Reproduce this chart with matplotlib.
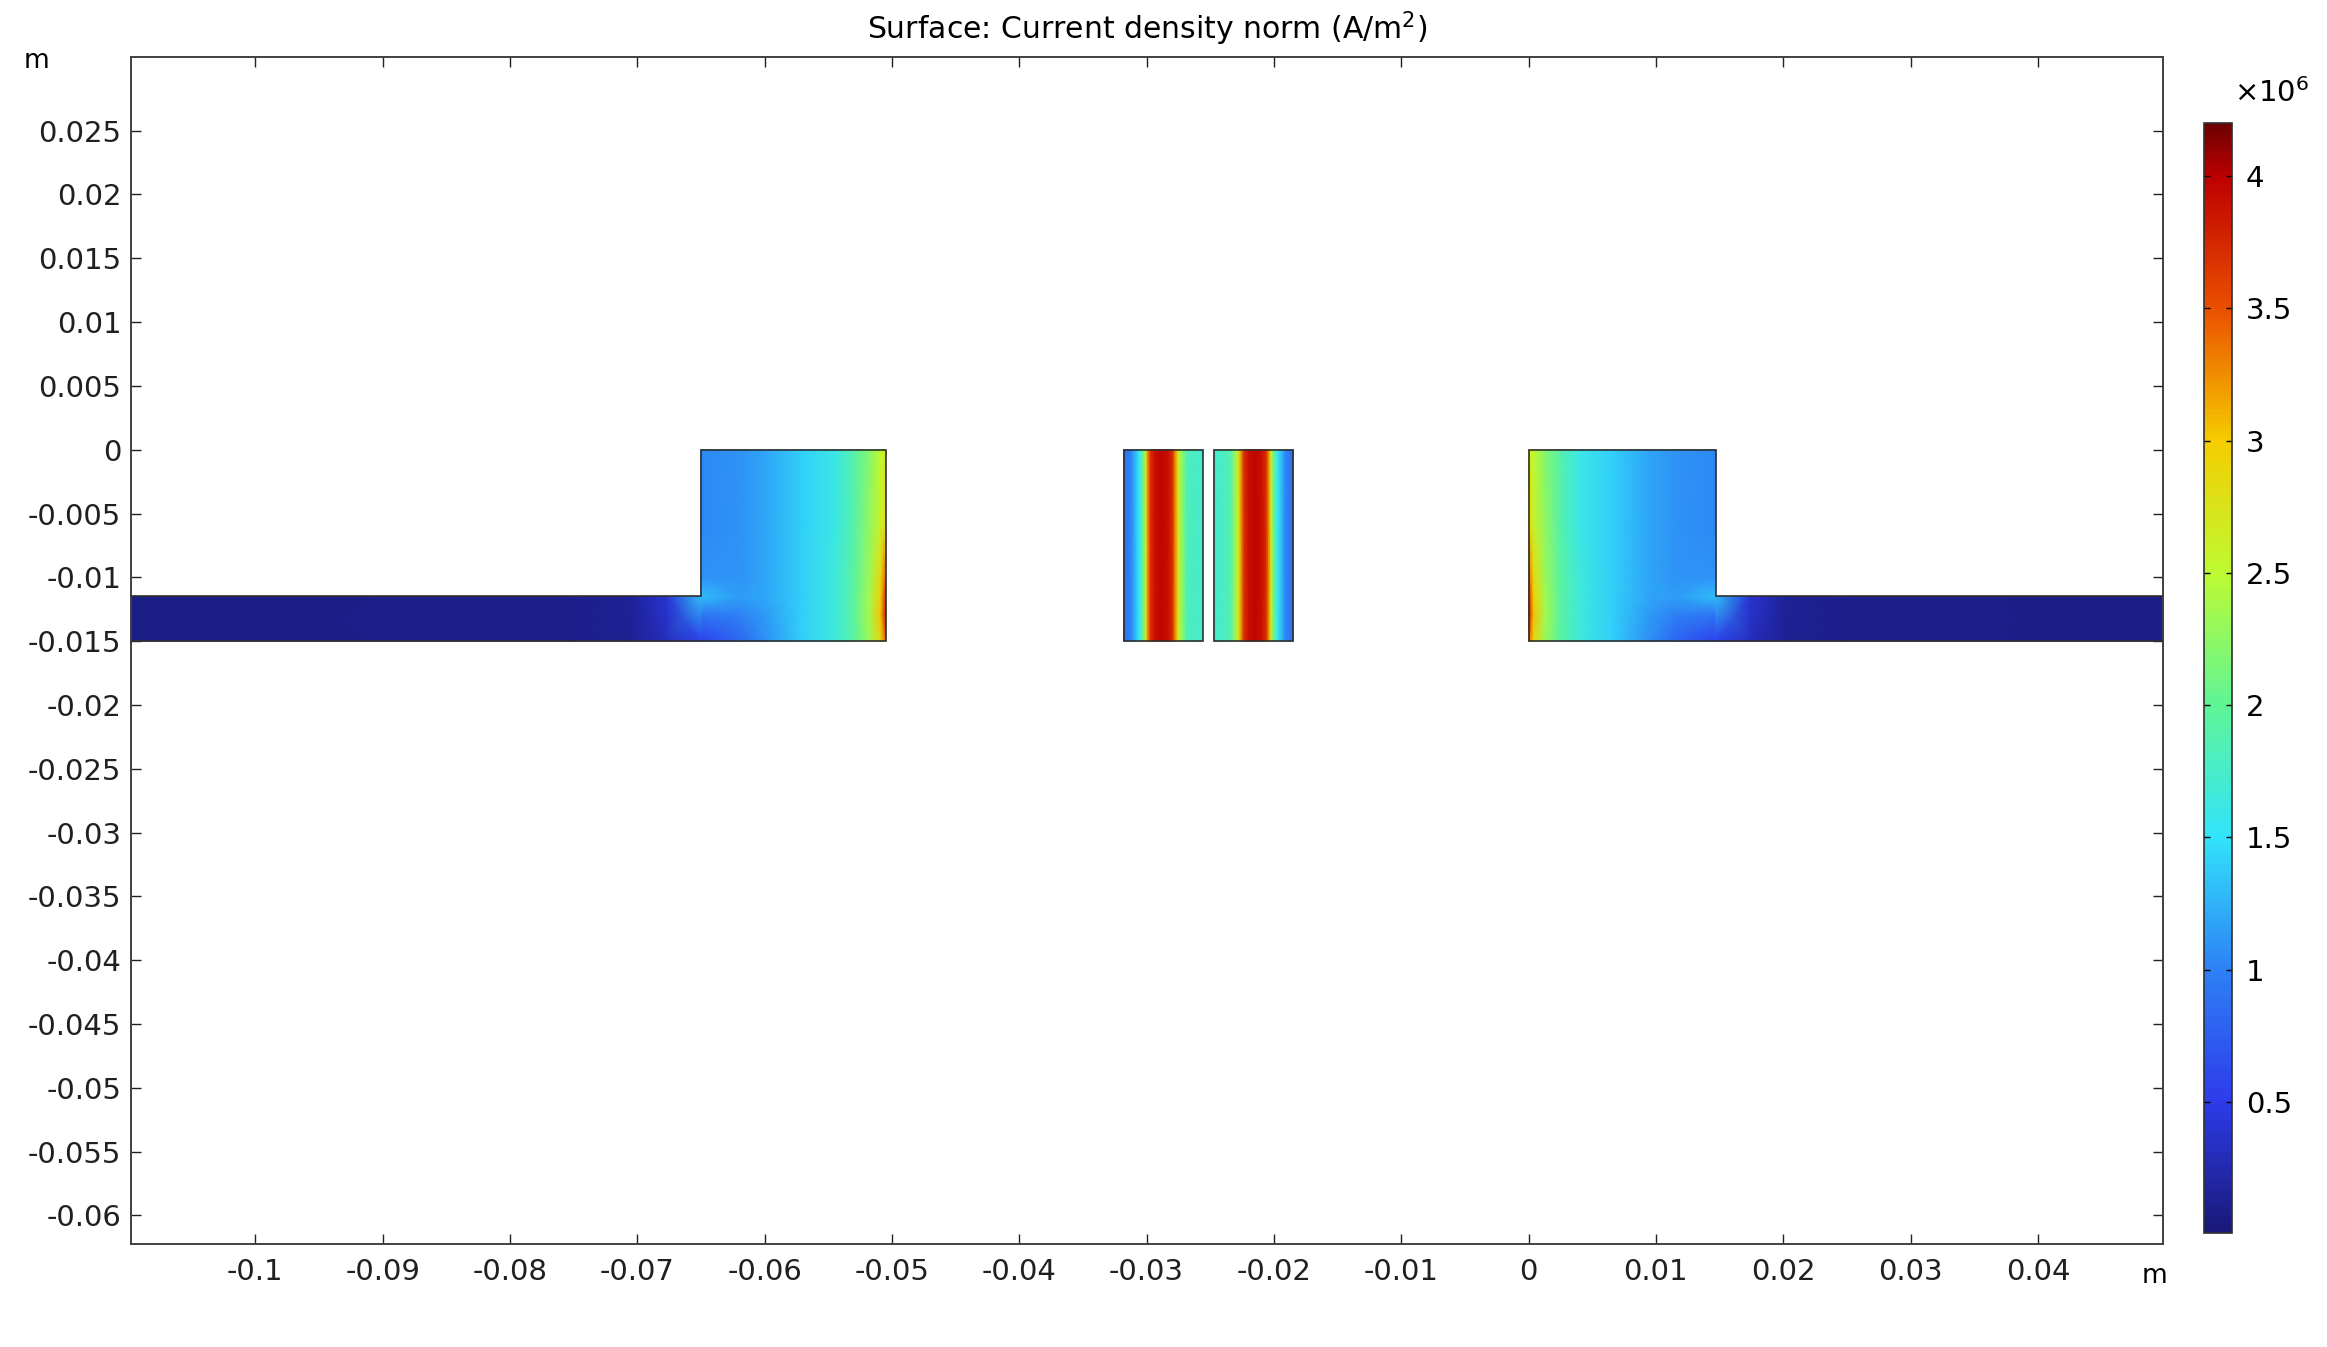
import matplotlib
matplotlib.use("Agg")
import matplotlib.pyplot as plt
import numpy as np
from matplotlib.colors import LinearSegmentedColormap, Normalize
from matplotlib.patches import Polygon

plt.rcParams['axes.unicode_minus'] = False
plt.rcParams['font.family'] = ['DejaVu Sans']

# geometry (m)
xlim = (-0.10976, 0.04982)
ylim = (-0.06223, 0.03077)
bar_top, bar_bot = -0.0115, -0.015

# left electrode block: column positions and rows
blk_x = [-0.065, -0.062, -0.0598, -0.0570, -0.0545, -0.0530, -0.0518, -0.0509, -0.0505]
blk_y = [0.0, -0.006, -0.010, -0.0115, -0.013, -0.015]
# current density, 1e6 A/m^2 (rows follow blk_y)
blk_J = [
    [1.05, 1.10, 1.20, 1.40, 1.60, 1.90, 2.20, 2.50, 2.70],
    [1.05, 1.10, 1.20, 1.40, 1.60, 1.90, 2.25, 2.60, 2.85],
    [1.10, 1.10, 1.20, 1.40, 1.65, 1.95, 2.30, 2.85, 3.40],
    [1.30, 1.15, 1.20, 1.40, 1.65, 1.95, 2.35, 2.95, 3.70],
    [0.90, 1.00, 1.15, 1.40, 1.65, 1.95, 2.35, 3.05, 3.80],
    [0.55, 0.80, 1.10, 1.40, 1.65, 1.95, 2.30, 2.85, 3.40],
]

# left feed bar
bar_x = [-0.10976, -0.075, -0.0705, -0.0677, -0.065]
bar_J = [
    [0.08, 0.10, 0.15, 0.40, 1.30],
    [0.08, 0.10, 0.12, 0.30, 0.55],
]

# right electrode block and bar (mirror of the left ones, values reversed)
rblk_x = [0.0, 0.0004, 0.0013, 0.0025, 0.0040, 0.0065, 0.0093, 0.0115, 0.0147]
rbar_x = [0.0147, 0.0174, 0.0202, 0.0247, 0.04982]

# centre conductors
c1_x = [-0.0318, -0.0256]
c2_x = [-0.0247, -0.0185]
cond_frac = [0.0, 0.10, 0.19, 0.25, 0.28, 0.31, 0.34, 0.40, 0.48, 0.56,
             0.62, 0.65, 0.69, 0.73, 0.80, 1.0]
cond_J = [0.85, 1.05, 1.50, 2.10, 2.70, 3.30, 3.70, 3.90, 3.97, 3.90,
          3.70, 3.30, 2.70, 2.30, 1.85, 1.70]

# colour scale
vmin, vmax = 0.005, 4.2
cb_ticks = [0.5, 1, 1.5, 2, 2.5, 3, 3.5, 4]
x_ticks = [-0.1, -0.09, -0.08, -0.07, -0.06, -0.05, -0.04, -0.03, -0.02, -0.01,
           0, 0.01, 0.02, 0.03, 0.04]
y_ticks = [0.025, 0.02, 0.015, 0.01, 0.005, 0, -0.005, -0.01, -0.015, -0.02,
           -0.025, -0.03, -0.035, -0.04, -0.045, -0.05, -0.055, -0.06]

cmap = LinearSegmentedColormap.from_list('comsol_rainbow', [
    (0.000, (25/255, 25/255, 120/255)),
    (0.119, (45/255, 60/255, 235/255)),
    (0.238, (45/255, 130/255, 245/255)),
    (0.357, (50/255, 228/255, 250/255)),
    (0.476, (95/255, 245/255, 150/255)),
    (0.595, (190/255, 250/255, 50/255)),
    (0.714, (245/255, 205/255, 0/255)),
    (0.833, (235/255, 80/255, 0/255)),
    (0.952, (190/255, 0/255, 0/255)),
    (1.000, (110/255, 0/255, 0/255)),
])
norm = Normalize(vmin=vmin, vmax=vmax)

fig = plt.figure(figsize=(23.27, 13.47), dpi=100)
ax = fig.add_axes([0.0563, 0.0765, 0.9295 - 0.0563, 0.9577 - 0.0765])

blk_J = np.array(blk_J)
bar_J = np.array(bar_J)

kw = dict(shading='gouraud', cmap=cmap, norm=norm, rasterized=True)
m = ax.pcolormesh(blk_x, blk_y, blk_J, **kw)
ax.pcolormesh(bar_x, [bar_top, bar_bot], bar_J, **kw)
ax.pcolormesh(rblk_x, blk_y, blk_J[:, ::-1], **kw)
ax.pcolormesh(rbar_x, [bar_top, bar_bot], bar_J[:, ::-1], **kw)

for cx, frac, prof in [(c1_x, cond_frac, cond_J),
                       (c2_x, [1 - f for f in cond_frac[::-1]], cond_J[::-1])]:
    xs = cx[0] + np.array(frac) * (cx[1] - cx[0])
    ax.pcolormesh(xs, [0.0, bar_bot], np.array([prof, prof]), **kw)

# domain outlines
edge = dict(fill=False, edgecolor='#303030', lw=1.2, zorder=3)
ax.add_patch(Polygon([(xlim[0], bar_top), (blk_x[0], bar_top), (blk_x[0], 0),
                      (blk_x[-1], 0), (blk_x[-1], bar_bot), (xlim[0], bar_bot)],
                     closed=False, **edge))
ax.add_patch(Polygon([(xlim[1], bar_top), (rblk_x[-1], bar_top), (rblk_x[-1], 0),
                      (rblk_x[0], 0), (rblk_x[0], bar_bot), (xlim[1], bar_bot)],
                     closed=False, **edge))
for cx in (c1_x, c2_x):
    ax.add_patch(Polygon([(cx[0], 0), (cx[1], 0), (cx[1], bar_bot), (cx[0], bar_bot)],
                         closed=True, **edge))

ax.set_xlim(*xlim)
ax.set_ylim(*ylim)
ax.set_xticks(x_ticks)
ax.set_yticks(y_ticks)
ax.set_xticklabels(['%g' % v for v in x_ticks])
ax.set_yticklabels(['%g' % v for v in y_ticks])
ax.tick_params(direction='in', length=7, width=1, colors='#202020', labelsize=21,
               top=True, right=True)
ax.tick_params(axis='x', pad=10)
ax.tick_params(axis='y', pad=7)
for s in ax.spines.values():
    s.set_color('#404040')
    s.set_linewidth(1.4)

ax.set_title('Surface: Current density norm (A/m$^2$)', fontsize=21.5, pad=13)
fig.text(37 / 2327, 1 - 61 / 1347, 'm', fontsize=19, ha='center', va='center')
fig.text(2155 / 2327, 1 - 1276 / 1347, 'm', fontsize=19, ha='center', va='center')

# colour bar
cax = fig.add_axes([0.9471, 0.0846, 0.0121, 0.9087 - 0.0846])
cb = fig.colorbar(m, cax=cax, ticks=cb_ticks)
cb.ax.set_yticklabels(['%g' % v for v in cb_ticks])
cb.ax.tick_params(direction='in', length=4, width=1, labelsize=21, pad=10,
                  left=True, right=True)
cb.outline.set_edgecolor('#303030')
cb.outline.set_linewidth(1.2)
fig.text(2272 / 2327, 1 - 93 / 1347, r'$\times10^6$', fontsize=21,
         ha='center', va='center')

fig.savefig('out.png', dpi=100)
